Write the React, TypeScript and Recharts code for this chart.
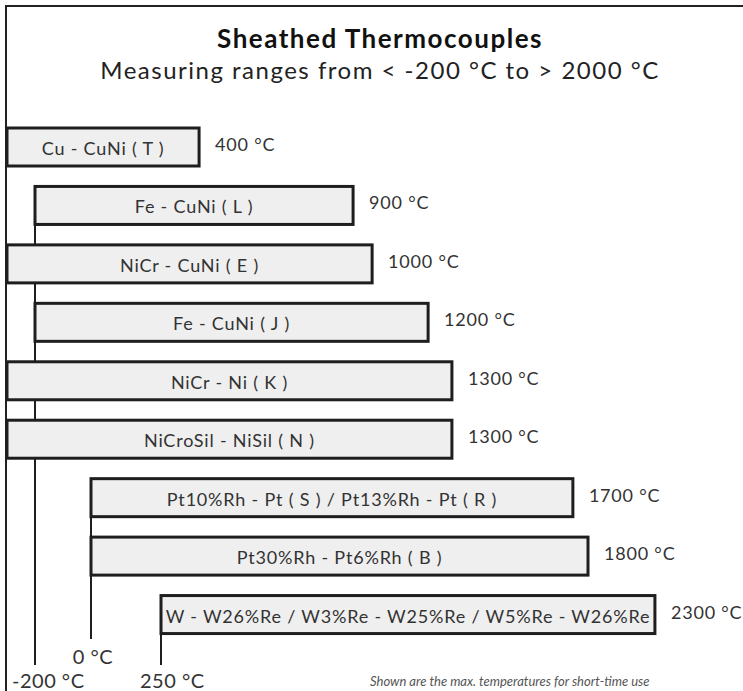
import React from "react";
import { BarChart, Bar, XAxis, YAxis, LabelList } from "recharts";

// thermocouple types, top to bottom
const names = [
  "Cu - CuNi ( T )",
  "Fe - CuNi ( L )",
  "NiCr - CuNi ( E )",
  "Fe - CuNi ( J )",
  "NiCr - Ni ( K )",
  "NiCroSil - NiSil ( N )",
  "Pt10%Rh - Pt ( S ) / Pt13%Rh - Pt ( R )",
  "Pt30%Rh - Pt6%Rh ( B )",
  "W - W26%Re / W3%Re - W25%Re / W5%Re - W26%Re",
];
// -300 stands for "below -200 °C" (the left edge of the scale)
const minTemps = [-300, -200, -300, -200, -300, -300, 0, 0, 250];
// max temperature printed next to each bar
const maxTemps = [400, 900, 1000, 1200, 1300, 1300, 1700, 1800, 2300];
// where each bar ends on the (schematic) axis
const barEnds = [386, 936, 1004, 1204, 1289, 1289, 1721, 1775, 2014];
const startTicks = [-200, 0, 250];

const AXIS_MIN = -300;
const AXIS_MAX = 2200;
const FONT = "Lato, 'Open Sans', sans-serif";
const TEXT = "#333";
const LINE = "#1e1e1e";

const data = names.map((name, i) => ({
  name,
  range: [minTemps[i], barEnds[i]],
  maxLabel: `${maxTemps[i]} °C`,
}));

// first row of each start group gets a connector line down to the axis
const connectorRows = startTicks.map((t) => minTemps.indexOf(t));
const connectorEnd: Record<number, number> = { [-200]: 665, 0: 639, 250: 665 };

const BarShape = (props: any) => {
  const { x, y, width, height, index } = props;
  const showLine = connectorRows.includes(index);
  return (
    <g>
      {showLine && (
        <line
          x1={x}
          x2={x}
          y1={y + height}
          y2={connectorEnd[minTemps[index]]}
          stroke={LINE}
          strokeWidth={2}
        />
      )}
      <rect x={x} y={y} width={width} height={height} fill="#efefef" stroke={LINE} strokeWidth={3} />
    </g>
  );
};

const tickStyle: Record<number, { dx: number; y: number; anchor: string }> = {
  [-200]: { dx: -23, y: 688, anchor: "start" },
  0: { dx: 2, y: 664, anchor: "middle" },
  250: { dx: -21, y: 688, anchor: "start" },
};

const StartTick = (props: any) => {
  const { x, payload } = props;
  const s = tickStyle[payload.value] || { dx: 0, y: 688, anchor: "middle" };
  return (
    <text
      x={x + s.dx}
      y={s.y}
      textAnchor={s.anchor as any}
      fontFamily={FONT}
      fontSize={20}
      letterSpacing={0.5}
      fill={TEXT}
    >
      {`${payload.value} °C`}
    </text>
  );
};

const NameLabel = (props: any) => {
  const { x, y, width, height, value } = props;
  return (
    <text
      x={x + width / 2}
      y={y + height / 2 + 1}
      textAnchor="middle"
      dominantBaseline="central"
      fontFamily={FONT}
      fontSize={18}
      letterSpacing={0.8}
      fill={TEXT}
    >
      {value}
    </text>
  );
};

const MaxLabel = (props: any) => {
  const { x, y, width, height, value } = props;
  return (
    <text
      x={x + width + 16}
      y={y + height / 2 - 3}
      dominantBaseline="central"
      fontFamily={FONT}
      fontSize={18}
      letterSpacing={0.8}
      fill={TEXT}
    >
      {value}
    </text>
  );
};

export default function App() {
  return (
    <div style={{ position: "absolute", left: 0, top: 0, width: 743, height: 691, background: "#fff" }}>
      <div
        style={{
          position: "absolute",
          left: 5,
          top: 5,
          width: 738,
          height: 686,
          borderLeft: "2px solid #222",
          borderTop: "2px solid #222",
        }}
      />
      <div
        style={{
          position: "absolute",
          top: 23,
          left: 0,
          width: 760,
          textAlign: "center",
          fontFamily: FONT,
          fontWeight: 700,
          fontSize: 26,
          letterSpacing: 1.5,
          color: "#111",
          lineHeight: "30px",
        }}
      >
        Sheathed Thermocouples
      </div>
      <div
        style={{
          position: "absolute",
          top: 55,
          left: 0,
          width: 760,
          textAlign: "center",
          fontFamily: FONT,
          fontSize: 24,
          letterSpacing: 1.5,
          color: "#222",
          lineHeight: "30px",
        }}
      >
        Measuring ranges from &lt; -200 °C to &gt; 2000 °C
      </div>
      <BarChart
        width={743}
        height={691}
        data={data}
        layout="vertical"
        margin={{ top: 118, right: 36, left: 7, bottom: 0 }}
        barSize={38}
        style={{ position: "absolute", left: 0, top: 0 }}
      >
        <XAxis
          type="number"
          domain={[AXIS_MIN, AXIS_MAX]}
          ticks={startTicks}
          axisLine={false}
          tickLine={false}
          tick={<StartTick />}
          height={47}
          interval={0}
        />
        <YAxis type="category" dataKey="name" hide />
        <Bar dataKey="range" shape={<BarShape />} isAnimationActive={false}>
          <LabelList dataKey="name" content={<NameLabel />} />
          <LabelList dataKey="maxLabel" content={<MaxLabel />} />
        </Bar>
      </BarChart>
      <div
        style={{
          position: "absolute",
          left: 370,
          top: 673,
          fontFamily: FONT,
          fontStyle: "italic",
          fontSize: 13,
          color: "#555",
          whiteSpace: "nowrap",
        }}
      >
        Shown are the max. temperatures for short-time use
      </div>
    </div>
  );
}
